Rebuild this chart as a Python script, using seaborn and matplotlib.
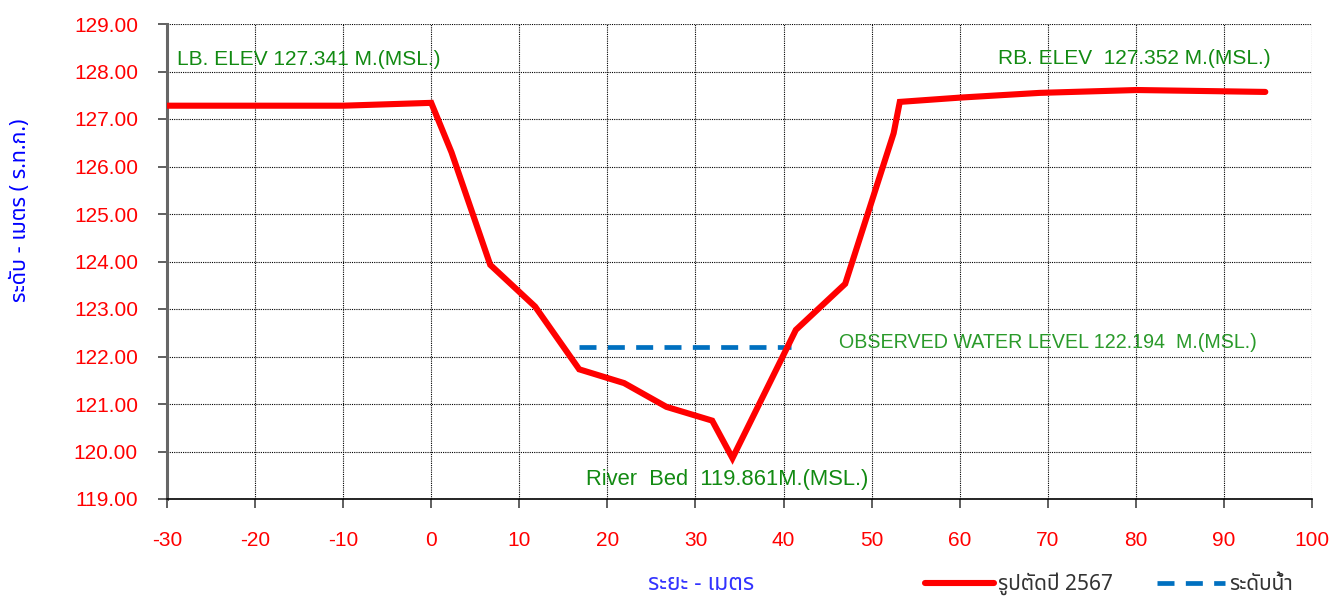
import matplotlib
matplotlib.use("Agg")
import matplotlib.pyplot as plt
import matplotlib.font_manager as fm
from matplotlib.ft2font import FT2Font
from matplotlib.lines import Line2D
import seaborn as sns
import pandas as pd

# ---------------- data ----------------
dist = [-30, -10, 0, 2.3, 6.7, 11.8, 16.8, 21.9, 26.7, 31.9, 34.2, 41.4, 47.0, 52.5, 53.2, 60.0, 69.1, 80.1, 94.7]
elev = [127.28, 127.28, 127.34, 126.3, 123.93, 123.05, 121.73, 121.44, 120.94, 120.65, 119.86, 122.56, 123.53, 126.70, 127.36, 127.45, 127.55, 127.61, 127.57]
water_x = [16.8, 40.9]
water_y = [122.194, 122.194]
series_names = ["รูปตัดปี 2567", "ระดับน้ำ"]
xticks = list(range(-30, 101, 10))
yticks = [119 + i for i in range(11)]
lb_text = "LB. ELEV 127.341 M.(MSL.)"
rb_text = "RB. ELEV  127.352 M.(MSL.)"
wl_text = "OBSERVED WATER LEVEL 122.194  M.(MSL.)"
bed_text = "River  Bed  119.861M.(MSL.)"
xlabel = "ระยะ - เมตร"
ylabel = "ระดับ - เมตร ( ร.ท.ก.)"

# ---------------- fonts ----------------
sns.set_style("white")

def find_thai():
    pref = ["Noto Sans Thai", "Noto Sans Thai UI", "Noto Serif Thai", "Loma", "Garuda",
            "Tlwg Typo", "Kinnari", "Sarabun", "Noto Sans", "DejaVu Sans"]
    found = {}
    for f in fm.fontManager.ttflist:
        try:
            cm = FT2Font(f.fname).get_charmap()
        except Exception:
            continue
        if 0x0E23 in cm and 0x0E31 in cm:
            found.setdefault(f.name, f.fname)
    for p in pref:
        if p in found:
            return p
    if found:
        return sorted(found)[0]
    return "DejaVu Sans"

thai = find_thai()
plt.rcParams["font.family"] = [thai, "DejaVu Sans"]
names = {f.name for f in fm.fontManager.ttflist}
latin = "Liberation Sans" if "Liberation Sans" in names else "DejaVu Sans"
narrow = "Liberation Sans Narrow" if "Liberation Sans Narrow" in names else latin

# ---------------- figure ----------------
W, H = 1334, 608
fig = plt.figure(figsize=(W / 100, H / 100), dpi=100)
ax = fig.add_axes([167 / W, 1 - 499 / H, (1312 - 167) / W, (499 - 24) / H])

df = pd.DataFrame({"x": dist, "y": elev})
dw = pd.DataFrame({"x": water_x, "y": water_y})
sns.lineplot(data=df, x="x", y="y", ax=ax, color="#FF0000", linewidth=4.4,
             sort=False, estimator=None, solid_joinstyle="miter", zorder=4)
sns.lineplot(data=dw, x="x", y="y", ax=ax, color="#0070C0", linewidth=3.4,
             sort=False, estimator=None, dashes=False, zorder=3)
ax.lines[-1].set_dashes((3.6, 2.4))

ax.set_xlim(-30, 100)
ax.set_ylim(119, 129)
ax.set_xticks(xticks)
ax.set_yticks(yticks)
ax.set_xticklabels([str(v) for v in xticks])
ax.set_yticklabels([f"{v:.2f}" for v in yticks])
ax.set_xlabel("")
ax.set_ylabel("")

ax.grid(True, color="black", linestyle=(0, (1, 1)), linewidth=0.8)
ax.set_axisbelow(True)
for s in ["top", "right"]:
    ax.spines[s].set_visible(False)
ax.spines["left"].set_color("#666666")
ax.spines["left"].set_linewidth(2.2)
ax.spines["bottom"].set_color("black")
ax.spines["bottom"].set_linewidth(1.2)

ax.tick_params(axis="y", direction="out", length=6.5, width=1.2, color="#444444",
               pad=14.4, labelcolor="#FF0000", labelsize=15, left=True)
ax.tick_params(axis="x", direction="out", length=6.5, width=1.2, color="#444444",
               pad=16.5, labelcolor="#FF0000", labelsize=15, bottom=True)
for t in ax.get_xticklabels() + ax.get_yticklabels():
    t.set_fontfamily(latin)

# annotations
ax.text(-28.9, 128.25, lb_text, color="#128a12", fontsize=15, family=latin, va="center")
ax.text(64.4, 128.28, rb_text, color="#128a12", fontsize=15, family=latin, va="center")
ax.text(46.3, 122.3, wl_text, color="#2a9a2a", fontsize=14.1, family=narrow, va="center")
ax.text(17.6, 119.4, bed_text, color="#128a12", fontsize=15.8, family=narrow, va="center")

# axis labels
fig.text(701 / W, 1 - 584 / H, xlabel, color="#3333FF", fontsize=16.5, ha="center", va="center")
fig.text(21 / W, 1 - 210 / H, ylabel, color="#0000FF", fontsize=15.5, ha="center",
         va="center", rotation=90, fontweight="bold")

# legend
handles = [Line2D([], [], color="#FF0000", linewidth=4.4, solid_capstyle="round"),
           Line2D([], [], color="#0070C0", linewidth=3.4, dashes=(3.6, 2.4))]
fig.legend(handles, series_names, loc="center left", bbox_to_anchor=(925 / W, 1 - 584 / H),
           ncol=2, frameon=False, fontsize=15, handlelength=3.3, handletextpad=0.2,
           columnspacing=2.1, borderaxespad=0, borderpad=0, labelcolor="#333333")

fig.savefig("out.png", dpi=100)
